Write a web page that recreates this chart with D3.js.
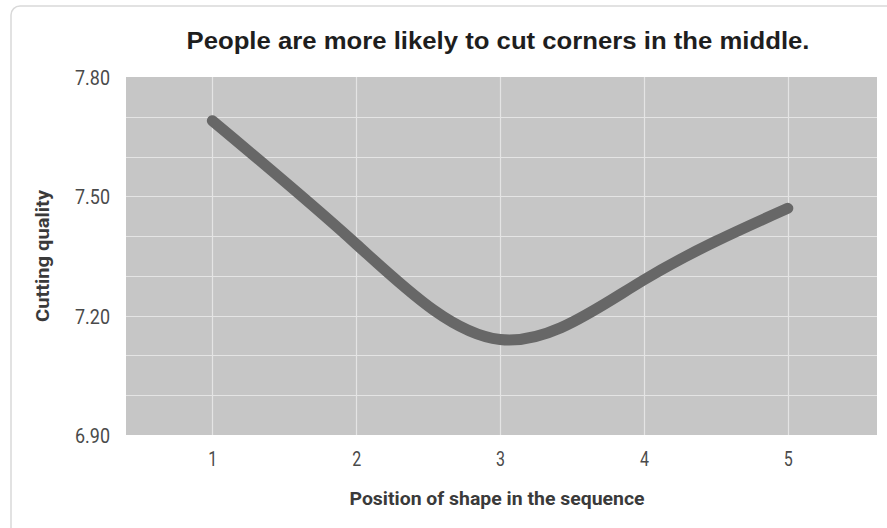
<!DOCTYPE html>
<html>
<head>
<meta charset="utf-8">
<script src="https://cdn.jsdelivr.net/npm/d3@7"></script>
<style>
  html, body { margin: 0; padding: 0; background: #fff; }
  svg { display: block; }
</style>
</head>
<body>
<svg id="chart" width="887" height="528"></svg>
<script>
const positions = [1, 2, 3, 4, 5];
const quality = [7.69, 7.38, 7.14, 7.29, 7.47];
const yTickLabels = [6.90, 7.20, 7.50, 7.80];
const yGridValues = [6.9, 7.0, 7.1, 7.2, 7.3, 7.4, 7.5, 7.6, 7.7, 7.8];
const xTickLabels = [1, 2, 3, 4, 5];
const titleText = "People are more likely to cut corners in the middle.";
const xTitle = "Position of shape in the sequence";
const yTitle = "Cutting quality";

const svg = d3.select("#chart");
const plot = { left: 126, right: 877, top: 77, bottom: 435 };

// card
svg.append("rect")
  .attr("x", 11).attr("y", 6)
  .attr("width", 900).attr("height", 560)
  .attr("rx", 9).attr("ry", 9)
  .attr("fill", "#fff")
  .attr("stroke", "#d9d9d9")
  .attr("stroke-width", 1.5);

const x = d3.scaleLinear().domain([0.4, 5.62]).range([plot.left, plot.right]);
const y = d3.scaleLinear().domain([6.9, 7.8]).range([plot.bottom, plot.top]);

// plot background
svg.append("rect")
  .attr("x", plot.left).attr("y", plot.top)
  .attr("width", plot.right - plot.left)
  .attr("height", plot.bottom - plot.top)
  .attr("fill", "#c6c6c6");

// grid
const grid = svg.append("g");
grid.selectAll("line.h").data(yGridValues.filter(v => v > 6.9 && v < 7.8)).join("line")
  .attr("x1", plot.left).attr("x2", plot.right)
  .attr("y1", d => Math.round(y(d)) + 0.5).attr("y2", d => Math.round(y(d)) + 0.5)
  .attr("stroke", "#e4e4e4").attr("stroke-width", 1.2);
grid.selectAll("line.v").data(xTickLabels).join("line")
  .attr("y1", plot.top).attr("y2", plot.bottom)
  .attr("x1", d => Math.round(x(d)) + 0.5).attr("x2", d => Math.round(x(d)) + 0.5)
  .attr("stroke", "#e4e4e4").attr("stroke-width", 1.2);

// axes
const yAxis = d3.axisLeft(y).tickValues(yTickLabels).tickFormat(d3.format(".2f")).tickSize(0).tickPadding(16);
const gy = svg.append("g").attr("transform", `translate(${plot.left},0)`).call(yAxis);
gy.select(".domain").remove();
gy.selectAll("text")
  .attr("font-family", "Roboto, 'Liberation Sans', sans-serif")
  .attr("font-size", 20)
  .attr("fill", "#4a4a4a")
  .attr("dy", "0.38em")
  .attr("textLength", 35)
  .attr("lengthAdjust", "spacingAndGlyphs");

const xAxis = d3.axisBottom(x).tickValues(xTickLabels).tickFormat(d3.format("d")).tickSize(0).tickPadding(17);
const gx = svg.append("g").attr("transform", `translate(0,${plot.bottom})`).call(xAxis);
gx.select(".domain").remove();
gx.selectAll("text")
  .attr("font-family", "Roboto, 'Liberation Sans', sans-serif")
  .attr("font-size", 20)
  .attr("fill", "#4a4a4a")
  .attr("textLength", 9)
  .attr("lengthAdjust", "spacingAndGlyphs");

// line
const line = d3.line()
  .x((d, i) => x(positions[i]))
  .y(d => y(d))
  .curve(d3.curveNatural);
svg.append("path")
  .datum(quality)
  .attr("d", line)
  .attr("fill", "none")
  .attr("stroke", "#676767")
  .attr("stroke-width", 11)
  .attr("stroke-linecap", "round")
  .attr("stroke-linejoin", "round");

// title
svg.append("text")
  .attr("x", 498).attr("y", 49)
  .attr("text-anchor", "middle")
  .attr("font-family", "'Liberation Sans', Arial, sans-serif")
  .attr("font-weight", "bold")
  .attr("font-size", 23.5)
  .attr("fill", "#1e1e1e")
  .attr("textLength", 623)
  .attr("lengthAdjust", "spacingAndGlyphs")
  .text(titleText);

// x title
svg.append("text")
  .attr("x", 497).attr("y", 505)
  .attr("text-anchor", "middle")
  .attr("font-family", "Roboto, 'Liberation Sans', sans-serif")
  .attr("font-weight", "bold")
  .attr("font-size", 19)
  .attr("fill", "#3a3a3a")
  .attr("textLength", 295)
  .attr("lengthAdjust", "spacingAndGlyphs")
  .text(xTitle);

// y title
svg.append("text")
  .attr("transform", "translate(49,256) rotate(-90)")
  .attr("text-anchor", "middle")
  .attr("font-family", "Roboto, 'Liberation Sans', sans-serif")
  .attr("font-weight", "bold")
  .attr("font-size", 19)
  .attr("fill", "#3a3a3a")
  .attr("textLength", 132)
  .attr("lengthAdjust", "spacingAndGlyphs")
  .text(yTitle);
</script>
</body>
</html>
